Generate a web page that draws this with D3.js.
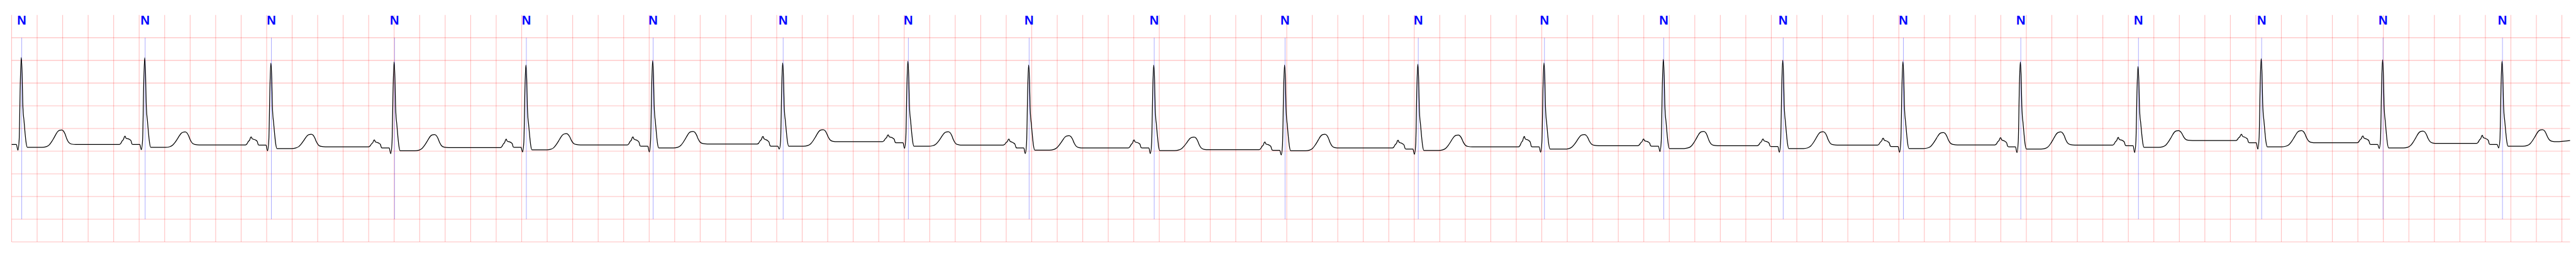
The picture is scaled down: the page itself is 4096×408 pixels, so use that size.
<!DOCTYPE html>
<html><head><meta charset="utf-8">
<script src="https://cdn.jsdelivr.net/npm/d3@7"></script>
<style>html,body{margin:0;padding:0;background:#fff;overflow:hidden}</style>
</head><body>
<svg id="chart" width="4096" height="408"></svg>
<script>
// ---- data (time in s, amplitude in mV) ----
const beatTimes = [0.0792,1.0472,2.0370,3.0030,4.0368,5.0309,6.0505,7.0325,7.9796,8.9603,9.9866,11.0314,12.0209,12.9568,13.8932,14.8358,15.7566,16.6794,17.6455,18.5975,19.5342];
const beatLabels = ["N","N","N","N","N","N","N","N","N","N","N","N","N","N","N","N","N","N","N","N","N"];
const rPeak   = [2.064,2.060,1.941,1.966,1.901,1.992,1.946,1.981,1.901,1.896,1.901,1.916,1.946,2.026,2.002,1.971,1.964,1.866,2.039,2.014,1.981];
const qDip    = [0.023,0.032,0.008,-0.055,-0.017,-0.017,0.045,0.063,-0.053,-0.053,-0.083,-0.068,-0.023,-0.008,-0.023,-0.023,-0.030,-0.030,0.045,0.058,0.070];
const prLevel = [0.146,0.146,0.134,0.070,0.083,0.108,0.108,0.184,0.070,0.070,0.020,0.045,0.096,0.108,0.103,0.103,0.096,0.121,0.184,0.146,0.146];
const pPeak   = [0.332,0.330,0.315,0.247,0.264,0.315,0.323,0.360,0.264,0.247,0.204,0.242,0.323,0.267,0.267,0.285,0.297,0.302,0.372,0.335,0.347];
const stLevel = [0.083,0.083,0.058,0.008,0.028,0.070,0.108,0.108,0.023,0.013,0.008,0.015,0.045,0.058,0.058,0.058,0.045,0.083,0.096,0.070,0.108];
const tPeak   = [0.466,0.423,0.372,0.365,0.385,0.436,0.474,0.428,0.342,0.310,0.372,0.355,0.365,0.436,0.428,0.410,0.423,0.453,0.453,0.443,0.474];
const tpLevel = [0.146,0.138,0.096,0.078,0.138,0.159,0.209,0.134,0.070,0.032,0.070,0.096,0.121,0.121,0.134,0.138,0.134,0.234,0.184,0.171,0.209];
const startLevel = 0.146, endLevel = 0.234;
const tEnd = 20.064;

const pShapeMs   = [-203,-192,-181,-170,-162,-157,-152,-144,-133,-122,-111,-103,-95];
const pShapeFrac = [0,0.12,0.42,0.62,0.95,1,0.8,0.72,0.68,0.6,0.45,0.05,0];
const qrsMs   = [-42,-30,-20,-11,-4,3,8,12,17,25.5,33.5,44];
const qrsKind = ["pr","q","up","up","up","dn","dn","dn","dn","dn","dn","dn"];
const qrsFrac = [0,0,0.06,0.72,1,0.82,0.5,0.38,0.31,0.17,0.06,0];
const tShapeMs   = [54,160,192,215,234,252,267,281,296,313,327,340,353,369,390,424];
const tShapeFrac = [0,0,0.04,0.14,0.32,0.54,0.74,0.9,0.98,1,0.93,0.72,0.4,0.14,0.03,0];

const xGridTicks = d3.range(0, 101).map(i => i * 0.2);
const yGridTicks = [-2,-1.5,-1,-0.5,0,0.5,1,1.5,2,2.5];

// ---- build trace points ----
const pts = [{t:0, v:startLevel}];
beatTimes.forEach((tb, i) => {
  const prevBase = i === 0 ? startLevel : tpLevel[i-1];
  const n = pShapeMs.length, pk = pShapeFrac.indexOf(1);
  const basePk = prevBase + (prLevel[i]-prevBase)*pk/(n-1);
  pShapeMs.forEach((ms, k) => {
    const t = tb + ms/1000; if (t <= 0) return;
    const base = prevBase + (prLevel[i]-prevBase)*k/(n-1);
    pts.push({t, v: base + pShapeFrac[k]*(pPeak[i]-basePk)});
  });
  qrsMs.forEach((ms, k) => {
    const t = tb + ms/1000; if (t <= 0) return;
    let v;
    if (qrsKind[k] === "pr") v = prLevel[i];
    else if (qrsKind[k] === "q") v = qDip[i];
    else if (qrsKind[k] === "up") v = prLevel[i] + qrsFrac[k]*(rPeak[i]-prLevel[i]);
    else v = stLevel[i] + qrsFrac[k]*(rPeak[i]-stLevel[i]);
    pts.push({t, v});
  });
  const tpk = tShapeFrac.indexOf(1);
  tShapeMs.forEach((ms, k) => {
    const t = tb + ms/1000;
    const base = k <= tpk ? stLevel[i] : tpLevel[i];
    pts.push({t, v: base + tShapeFrac[k]*(tPeak[i]-base)});
  });
});
pts.push({t:tEnd, v:endLevel});

// ---- draw (reference coordinates, scaled 0.544) ----
const svg = d3.select("#chart");
const g = svg.append("g").attr("transform","scale(0.544)");
const x = d3.scaleLinear().domain([0, tEnd]).range([34, 7512]);
const y = d3.scaleLinear().domain([-2, 3]).range([706, 43.8]);

g.append("g").selectAll("line").data(xGridTicks).join("line")
  .attr("x1", d => x(d)).attr("x2", d => x(d))
  .attr("y1", y(3)).attr("y2", y(-2))
  .attr("stroke","red").attr("stroke-opacity",0.25).attr("stroke-width",2);
g.append("g").selectAll("line").data(yGridTicks).join("line")
  .attr("x1", x(0)).attr("x2", x(tEnd))
  .attr("y1", d => y(d)).attr("y2", d => y(d))
  .attr("stroke","red").attr("stroke-opacity",0.25).attr("stroke-width",2);

g.append("g").selectAll("line").data(beatTimes).join("line")
  .attr("x1", d => x(d)).attr("x2", d => x(d))
  .attr("y1", y(2.5)).attr("y2", y(-1.5))
  .attr("stroke","blue").attr("stroke-opacity",0.5).attr("stroke-width",1.2);

g.append("g").selectAll("text").data(beatTimes).join("text")
  .attr("x", d => x(d)).attr("y", y(3) + 28)
  .attr("text-anchor","middle")
  .attr("font-family","'Liberation Sans', Arial, sans-serif")
  .attr("font-weight","bold").attr("font-size",37)
  .attr("fill","#0000ff")
  .text((d,i) => beatLabels[i]);

const line = d3.line().x(d => x(d.t)).y(d => y(d.v)).curve(d3.curveMonotoneX);
g.append("path").datum(pts).attr("d", line)
  .attr("fill","none").attr("stroke","#000").attr("stroke-width",2.3)
  .attr("stroke-linejoin","round");
</script>
</body></html>
